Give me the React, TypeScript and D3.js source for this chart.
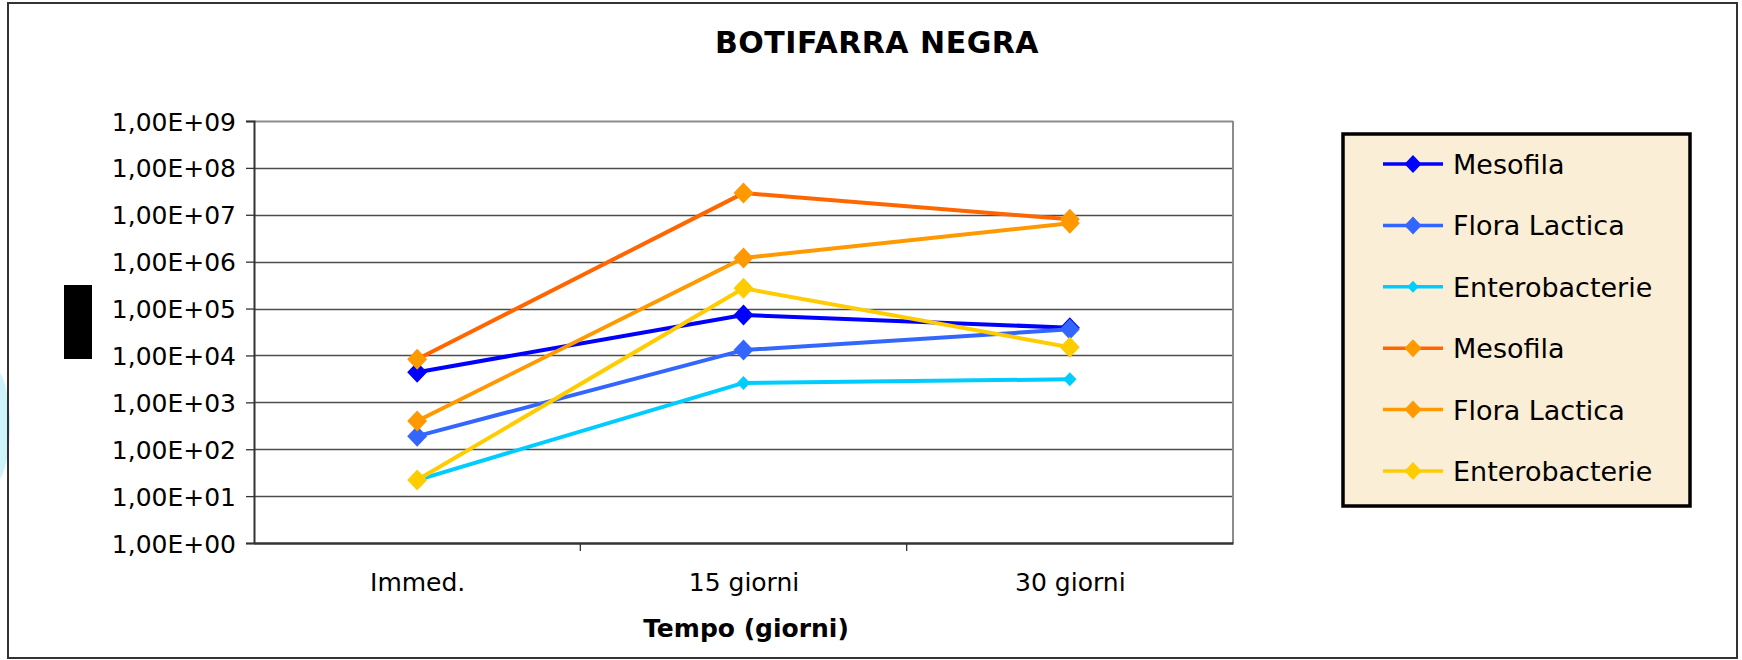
import React, { useEffect, useRef } from "react";
import * as d3 from "d3";

// categorie asse x
const categories = ["Immed.", "15 giorni", "30 giorni"];

// valori (UFC/g)
const mesofilaBlu = [4.4e3, 7.3e4, 3.9e4];
const floraLacticaBlu = [1.9e2, 1.3e4, 3.6e4];
const enteroCiano = [22, 2.6e3, 3.1e3];
const mesofilaArancio = [8.3e3, 2.9e7, 8.0e6];
const floraLacticaArancio = [4.0e2, 1.2e6, 6.6e6];
const enteroGiallo = [22, 2.7e5, 1.5e4];

const seriesNames = [
  "Mesofila",
  "Flora Lactica",
  "Enterobacterie",
  "Mesofila",
  "Flora Lactica",
  "Enterobacterie",
];
const seriesColors = ["#0000ff", "#3366ff", "#00ccff", "#ff6600", "#ff9900", "#ffcc00"];
const markerColors = ["#0000ff", "#3366ff", "#00ccff", "#ff9900", "#ff9900", "#ffcc00"];
const markerSizes = [10.5, 10.5, 7, 10.5, 10.5, 10.5];

const yTickValues = [1e0, 1e1, 1e2, 1e3, 1e4, 1e5, 1e6, 1e7, 1e8, 1e9];
const yTickLabels = [
  "1,00E+00",
  "1,00E+01",
  "1,00E+02",
  "1,00E+03",
  "1,00E+04",
  "1,00E+05",
  "1,00E+06",
  "1,00E+07",
  "1,00E+08",
  "1,00E+09",
];

const FONT = "'DejaVu Sans', Verdana, sans-serif";

const App = () => {
  const svgRef = useRef<SVGSVGElement | null>(null);

  useEffect(() => {
    const width = 1742;
    const height = 660;
    const plot = { left: 254, right: 1233, top: 121, bottom: 543 };

    const svg = d3.select(svgRef.current).attr("width", width).attr("height", height);
    svg.selectAll("*").remove();

    const allSeries = [
      mesofilaBlu,
      floraLacticaBlu,
      enteroCiano,
      mesofilaArancio,
      floraLacticaArancio,
      enteroGiallo,
    ];

    const x = d3.scalePoint().domain(categories).range([plot.left, plot.right]).padding(0.5);
    const xBand = d3.scaleBand().domain(categories).range([plot.left, plot.right]);
    const y = d3.scaleLog().domain([1, 1e9]).range([plot.bottom, plot.top]);

    svg.append("rect").attr("width", width).attr("height", height).attr("fill", "#fff");

    // macchia azzurra sul bordo sinistro
    svg
      .append("ellipse")
      .attr("cx", -6)
      .attr("cy", 426)
      .attr("rx", 16)
      .attr("ry", 57)
      .attr("fill", "#cdf4fb");

    // cornice esterna
    svg
      .append("rect")
      .attr("x", 8)
      .attr("y", 3)
      .attr("width", 1729)
      .attr("height", 655)
      .attr("fill", "none")
      .attr("stroke", "#333")
      .attr("stroke-width", 2);

    // titolo
    svg
      .append("text")
      .attr("x", 877)
      .attr("y", 53)
      .attr("text-anchor", "middle")
      .style("font-family", FONT)
      .style("font-weight", "bold")
      .style("font-size", "30px")
      .style("letter-spacing", "0.5px")
      .text("BOTIFARRA NEGRA");

    // griglia
    svg
      .append("g")
      .selectAll("line")
      .data(yTickValues.slice(1))
      .enter()
      .append("line")
      .attr("x1", plot.left)
      .attr("x2", plot.right)
      .attr("y1", (d) => Math.round(y(d)) + 0.5)
      .attr("y2", (d) => Math.round(y(d)) + 0.5)
      .attr("stroke", (d) => (d === 1e9 ? "#8c8c8c" : "#4d4d4d"))
      .attr("stroke-width", (d) => (d === 1e9 ? 2 : 1.3));

    // bordo destro area grafico
    svg
      .append("line")
      .attr("x1", plot.right)
      .attr("x2", plot.right)
      .attr("y1", plot.top)
      .attr("y2", plot.bottom)
      .attr("stroke", "#8c8c8c")
      .attr("stroke-width", 2);

    // asse y
    const yAxis = svg
      .append("g")
      .attr("transform", `translate(${plot.left},0)`)
      .call(
        d3
          .axisLeft(y)
          .tickValues(yTickValues)
          .tickFormat((d, i) => yTickLabels[i])
          .tickSize(8)
          .tickPadding(10)
      );
    yAxis.select(".domain").attr("stroke", "#333").attr("stroke-width", 2);
    yAxis.selectAll(".tick line").attr("stroke", "#333").attr("stroke-width", 1.3);
    yAxis
      .selectAll(".tick text")
      .style("font-family", FONT)
      .style("font-size", "25px")
      .attr("fill", "#000")
      .attr("dy", "0.36em");

    // asse x
    const xAxis = svg
      .append("g")
      .attr("transform", `translate(0,${plot.bottom})`)
      .call(d3.axisBottom(x).tickSize(0).tickPadding(30));
    xAxis.select(".domain").attr("stroke", "#333").attr("stroke-width", 2.5);
    xAxis
      .selectAll(".tick text")
      .style("font-family", FONT)
      .style("font-size", "25px")
      .attr("fill", "#000");

    // tacche fra le categorie
    svg
      .append("g")
      .selectAll("line")
      .data(categories.slice(1))
      .enter()
      .append("line")
      .attr("x1", (d) => xBand(d) as number)
      .attr("x2", (d) => xBand(d) as number)
      .attr("y1", plot.bottom)
      .attr("y2", plot.bottom + 8)
      .attr("stroke", "#333")
      .attr("stroke-width", 1.3);

    svg
      .append("text")
      .attr("x", 746)
      .attr("y", 637)
      .attr("text-anchor", "middle")
      .style("font-family", FONT)
      .style("font-weight", "bold")
      .style("font-size", "25px")
      .text("Tempo (giorni)");

    // titolo asse y (reso come blocco nero nell'originale)
    svg
      .append("rect")
      .attr("x", 64)
      .attr("y", 285)
      .attr("width", 28)
      .attr("height", 74)
      .attr("fill", "#000");

    const diamond = (cx: number, cy: number, r: number) =>
      `M${cx},${cy - r}L${cx + r * 0.95},${cy}L${cx},${cy + r}L${cx - r * 0.95},${cy}Z`;

    const line = d3
      .line<number>()
      .x((d, i) => x(categories[i]) as number)
      .y((d) => y(d));

    allSeries.forEach((values, s) => {
      const g = svg.append("g");
      g.append("path")
        .attr("d", line(values))
        .attr("fill", "none")
        .attr("stroke", seriesColors[s])
        .attr("stroke-width", 4)
        .attr("stroke-linejoin", "round");
      g.selectAll("path.m")
        .data(values)
        .enter()
        .append("path")
        .attr("class", "m")
        .attr("d", (d, i) => diamond(x(categories[i]) as number, y(d), markerSizes[s]))
        .attr("fill", markerColors[s]);
    });

    // legenda
    const legend = svg.append("g");
    legend
      .append("rect")
      .attr("x", 1343)
      .attr("y", 134)
      .attr("width", 347)
      .attr("height", 372)
      .attr("fill", "#fbeed6")
      .attr("stroke", "#000")
      .attr("stroke-width", 3.5);

    const legendY = d3.scaleLinear().domain([0, 5]).range([164, 471]);
    seriesNames.forEach((name, s) => {
      const cy = legendY(s);
      legend
        .append("line")
        .attr("x1", 1383)
        .attr("x2", 1443)
        .attr("y1", cy)
        .attr("y2", cy)
        .attr("stroke", seriesColors[s])
        .attr("stroke-width", 3.5);
      legend
        .append("path")
        .attr("d", diamond(1413, cy, s === 2 ? 6 : 9))
        .attr("fill", markerColors[s]);
      legend
        .append("text")
        .attr("x", 1453)
        .attr("y", cy + 10)
        .style("font-family", FONT)
        .style("font-size", "27px")
        .text(name);
    });
  }, []);

  return (
    <div style={{ position: "absolute", left: 0, top: 0 }}>
      <svg ref={svgRef} style={{ display: "block" }} />
    </div>
  );
};

export default App;
